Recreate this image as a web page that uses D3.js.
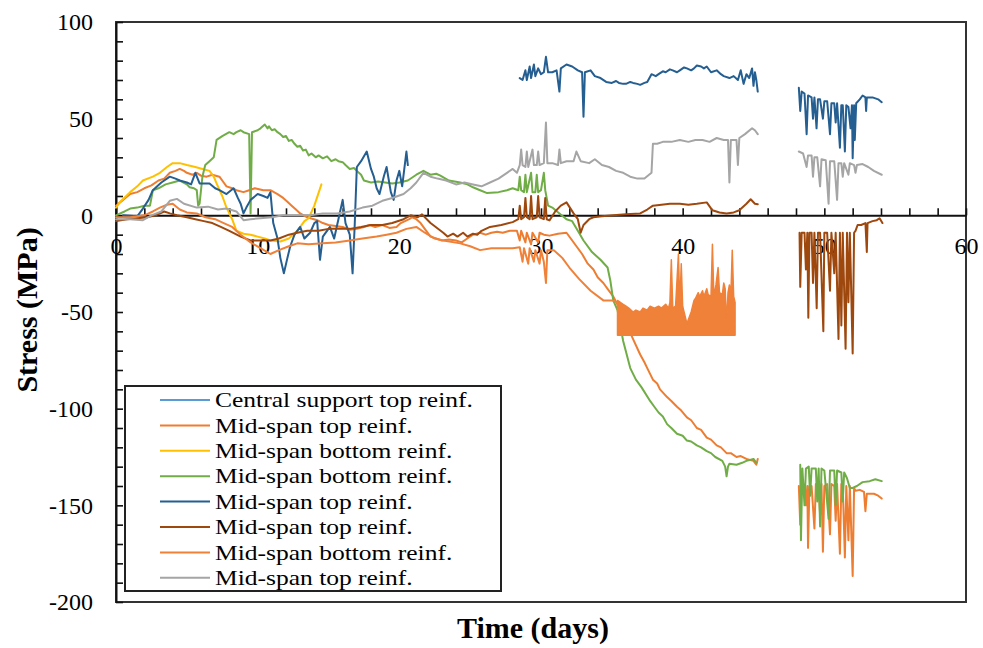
<!DOCTYPE html>
<html>
<head>
<meta charset="utf-8">
<script src="https://cdn.jsdelivr.net/npm/d3@7"></script>
<style>
  body { margin: 0; background: #fff; }
  svg { display: block; }
  text { font-family: "Liberation Serif", "Times New Roman", serif; fill: #000; }
</style>
</head>
<body>
<svg id="chart" width="983" height="648"></svg>
<script>
// Gauge stress records, [day, MPa]; null marks a gap in logging.
const centralSupportTop = [];

const midTopA = [
  [0,5],[0.5,8],[1.0,11],[1.5,12],[2.0,14],[2.5,15.5],[3.0,18],[3.4,19],[3.8,22],[4.2,23],[4.5,24],[4.8,23],
  [5.0,22],[5.4,21],[5.7,22],[6.0,20.5],[6.4,20],[6.8,21],[7.3,20],[7.6,17],[7.8,15],[8.2,14],
  [8.5,13],[9.0,12],[9.4,13],[9.8,14],[10.1,13.5],[10.4,13],[10.9,13],[11.4,11],[11.8,9],[12.1,7],[12.4,5],
  [12.7,3],[13.0,1],[13.5,-1],[14.2,-2.5],[14.6,-4],
  [15.0,-5],[15.5,-5.5],[16.0,-6],[16.5,-7.5],[17.0,-7],[17.5,-6],[17.9,-5],[18.3,-6],[18.8,-5],[19.3,-6.5],
  [19.8,-6],[20.1,-4],[20.4,-3],[20.7,-2],[20.9,-1],[21.2,-2],[21.5,-4],[21.9,-8],[22.2,-11],
  [22.6,-12],[23.0,-13],[23.5,-12.5],[24.0,-13],[24.4,-14],[24.8,-12],[25.2,-10],[25.7,-9],[26.1,-10],
  [26.5,-9],[26.9,-8.5],[27.3,-9],[27.8,-8],[28.3,-8],[28.5,-13],[28.6,-8],[28.9,-14],
  [29.0,-9],[29.3,-15],[29.4,-9],[29.8,-14],[29.9,-9],[30.2,-10],[30.6,-10.5],[31.2,-9.5],[31.8,-9],
  [32.1,-12],[32.5,-16],[32.9,-20],[33.3,-25],[33.7,-28],[34.0,-32],[34.4,-35],[34.7,-38],[35.1,-42],
  [35.6,-49],[36.0,-56],[36.5,-64],[37.0,-72],[37.3,-76],
  [37.5,-79],[37.9,-85],[38.2,-87],[38.4,-90],[38.9,-94],[39.2,-96],[39.6,-99],[39.9,-101],[40.3,-104.5],
  [40.6,-106],[41.0,-110],[41.3,-111],[41.7,-115],[42.0,-116],[42.4,-119],[42.7,-120],
  [43.1,-123],[43.4,-123],[43.8,-125],[44.1,-124.5],[44.5,-126],[45.0,-127],[45.2,-129],[45.3,-126],
  null,
  [48.2,-140],[48.3,-160],[48.4,-141],[48.6,-140],[48.7,-150],[48.8,-140],[48.85,-172],[48.95,-140],
  [49.1,-140],[49.3,-162],[49.4,-139],[49.6,-140],[49.7,-155],[49.8,-139],[49.9,-174],[50.0,-140],
  [50.2,-139],[50.4,-165],[50.5,-139],[50.7,-140],[50.8,-158],[50.9,-139],[51.1,-175],[51.2,-139],
  [51.3,-140],[51.45,-177],[51.55,-140],[51.7,-168],[51.8,-140],[52.0,-186.5],[52.1,-141],[52.2,-142.5],
  [52.5,-142],[52.8,-143],[52.9,-153],[53.0,-144],[53.5,-144],[53.8,-145],[54.05,-146.5]
];

const midBottomYellow = [
  [0,4],[0.3,7],[1.0,12],[1.5,15],[1.9,18],[2.6,20],[3.1,22],[3.6,25],[4.0,27],[4.5,27],[5.0,26],[5.6,25],
  [6.1,24],[6.6,23],[6.9,20],[7.1,16.5],[7.5,10],[7.8,4],[8.2,-2],[8.5,-8],[9.0,-9.5],[9.5,-10],[10.0,-11],
  [10.5,-12],[10.9,-13],[11.6,-13.5],[12.2,-12],[12.8,-8],[13.3,-3],[13.6,-1.5],[14.0,5],[14.5,16]
];

const midBottomGreen = [
  [0,0],[0.6,2],[1.0,3.5],[1.5,4],[2.0,5],[2.4,5],[2.6,13],[3.0,14],[3.5,16],[4.0,17],[4.5,18],[5.0,16],
  [5.2,14.5],[5.5,14],[5.7,13],[5.8,5],[5.9,6],[6.1,20],[6.3,26],[6.6,28],[6.9,30],[7.1,39],[7.5,41],
  [8.0,43],[8.3,42],[8.5,43],[8.8,44],[9.0,43],[9.4,42],[9.5,1],[9.6,43],[10.0,44],[10.2,45],[10.5,47],
  [10.7,45],[10.8,46],[11.0,44],[11.2,44.5],[11.4,43],[11.6,42],[11.8,40.5],[12.0,41],[12.2,38.5],[12.4,39],
  [12.6,37],[12.8,35.5],[13.0,36],[13.2,33.5],[13.4,34],[13.6,31],[13.8,32],[14.1,30],[14.3,31],[14.6,29.5],
  [14.9,30.5],[15.2,28],[15.5,29],[15.7,28],[16.0,27.5],[16.2,26],[16.5,24],[16.8,24.5],[17.0,23],[17.3,21],
  [17.5,18],[18.0,17],[18.5,17.5],[19.0,17],[19.5,16.5],[20.0,17],[20.6,18],[21.2,21],[21.7,23],[22.2,21],
  [22.6,21.5],[22.9,20.5],[23.5,18],[24.3,17],[24.8,16],[25.2,14.5],[25.7,13],[26.2,11.5],[27.0,12],
  [27.6,13],[28.0,14],[28.4,13],[28.5,20],[28.6,13],
  [28.8,12],[28.9,21],[29.0,12],[29.3,22],[29.4,12],[29.6,12],[29.7,21],[29.8,12],[30.0,13],[30.2,22],
  [30.3,13],[30.5,5],[30.8,4],[31.3,1],[31.8,-2],[32.2,-3],[32.6,-8],[33.0,-13],[33.6,-19],[34.2,-23],
  [34.7,-27],[34.9,-34],[35.1,-44],[35.4,-49],[35.8,-65],[36.3,-79],[36.7,-85],[37.1,-89],[37.7,-96],
  [38.0,-99],[38.3,-102],[38.6,-104],[38.9,-108],[39.2,-110],[39.6,-113],[40.0,-114],[40.3,-116.5],
  [40.6,-117],[41.0,-119],[41.3,-120],[41.7,-122],[42.0,-123],[42.3,-125],[42.8,-127],
  [43.0,-130],[43.1,-135],[43.2,-130],[43.3,-128.5],[43.8,-129],[44.2,-128],[44.5,-127],[45.0,-126],
  [45.2,-128],
  null,
  [48.3,-129],[48.35,-168],[48.45,-131],[48.6,-150],[48.7,-131],[48.9,-130],[49.0,-145],[49.1,-131],
  [49.4,-131],[49.5,-148],[49.6,-131],[49.7,-161],[49.8,-131],[50.0,-132],[50.3,-157],[50.4,-132],
  [50.7,-132],[50.8,-150],[50.9,-132],[51.2,-133],[51.3,-148],[51.4,-133],[51.6,-136],[51.8,-141],
  [52.0,-141],[52.3,-140],[52.7,-138],[53.2,-137.5],[53.6,-136.5],[54.05,-137.5]
];

const midTopBlue = [
  [0.5,0],[1.5,-0.5],[1.9,3.5],[2.3,8],[2.6,13],[3.2,17],[3.8,20],[4.2,19],[4.5,18],[5.0,17],[5.3,16],
  [5.6,22],[5.9,16.5],[6.6,16.5],[7.0,14],[7.3,13],[7.8,11],[8.3,14],[8.6,9],[8.8,6],[9.0,1],[9.2,4],
  [9.5,8],[10,11],[10.4,10],[10.7,9],[10.9,12],[11.1,-4],[11.4,-12],[11.6,-22],[11.85,-30],[12.1,-22],
  [12.3,-16],[12.6,-10],[13.0,-6],[13.3,-12],[13.7,-9],[14.0,-4],[14.2,-3],[14.4,-23],[14.6,-11],[15.1,-6],
  [15.4,-12],[15.7,-2],[16.0,8],[16.2,-4],[16.5,-10],[16.7,-30],[16.85,-5],[17.0,25],[17.3,28],[17.7,33],
  [18.0,24],[18.2,20],[18.4,14],[18.6,11],[18.9,20],[19.1,25],[19.4,12],[19.6,8],[19.8,18],[20.0,23],
  [20.2,15],[20.5,33],[20.6,26],
  null,
  [28.5,71],[28.7,70],[28.9,75],[29.0,70],[29.2,77],[29.3,71],[29.5,78],[29.6,72],[29.8,76],[30.0,73],
  [30.2,74],[30.35,82],[30.5,74],[30.8,74],[31.1,75],[31.3,64],[31.4,76],[31.8,78],[32.2,77],[32.6,75],
  [32.9,74],[33.0,51],[33.1,74],[33.5,75],[33.8,72],[34.2,71],[34.6,69],[35.0,68.5],[35.3,69.5],[35.5,68.5],
  [35.8,68],[36.0,68],[36.3,69],[36.5,68.5],[36.8,68],[37.0,67.5],[37.3,68.5],[37.5,69],[37.8,73],[38.1,72],
  [38.3,73],[38.6,74.5],[38.8,74],[39.1,75.5],[39.3,75],[39.6,74],[39.8,75],[40.1,76.5],[40.3,76],[40.6,75],
  [40.8,76],[41.0,77.5],[41.3,77],[41.5,76],[41.7,77],[42.0,74],[42.4,75],[42.7,73],[42.9,72],[43.3,71],
  [43.6,72],[43.9,70],[44.1,75],[44.3,68],
  [44.5,73],[44.7,71],[44.9,76],[45.0,67],[45.1,74],[45.2,70],[45.3,64],
  null,
  [48.2,66],[48.3,54],[48.4,64],[48.6,63],[48.75,42],[48.85,62],[49.1,61],[49.2,50],[49.3,61],[49.45,45],
  [49.55,60],[49.7,60],[49.9,50],[50.0,59],[50.2,59],[50.4,42],[50.5,58],[50.7,58],[50.8,48],[50.9,58],
  [51.1,35],[51.2,57],[51.3,57],[51.45,33],[51.55,57],[51.7,56],[51.85,45],[51.95,57],[52.0,29.5],
  [52.1,57],[52.15,39],[52.25,58],[52.5,60],[52.7,62],[52.9,61],[52.95,54],[53.0,61],[53.4,61],[53.8,60],
  [54.05,58.5]
];

const midTopBrown = [
  [0,-3],[0.8,-2],[1.5,-1.5],[2.2,-1],[2.8,0],[3.4,2],[3.8,1],[4.3,0],[5.0,-1],[5.6,-2],[6.2,-3],[6.8,-4],
  [7.4,-6],[8.0,-8],[8.8,-11],[9.5,-13],[10.2,-13],[10.9,-13],[11.5,-12],[12.2,-10],[12.8,-9],[13.5,-8],
  [14.3,-8],[15.0,-7],[15.8,-7],[16.5,-7],[17.3,-6],[18.0,-5],[18.8,-5],[19.5,-4],[20.3,-2],[20.8,0],
  [21.3,-1],[21.6,0.5],[22.2,-4],[23.1,-9],[23.4,-11],[23.8,-9.5],[24.1,-11],[24.5,-9],[24.8,-11],
  [25.2,-9.5],[25.5,-10],[25.8,-8],[26.4,-6],[27.2,-5],
  [28.0,-3.5],[28.4,-2],[28.5,5],[28.6,-2],[28.8,-1],[28.9,9],[29.0,-1],[29.2,-2],[29.3,10],[29.4,-2],
  [29.7,-1],[29.8,10],[29.9,-1],[30.2,-2],[30.3,9],[30.4,-2],[30.6,-2.6],[31.0,2],[31.4,5],[31.8,6.7],
  [32.3,1],[32.6,-2],[32.8,-9],[33.0,-5],[33.4,-2],[33.7,-1],[34.3,-0.5],[35.1,0],[36.0,0.5],[37.0,1],
  [37.5,3],[37.9,5],[38.5,5.5],[39.1,6],[39.8,6],[40.4,5.5],[41.0,6],[41.7,6.7],[42.1,2.6],[42.6,1.5],
  [43.1,1],[43.6,1.5],[44.0,2.6],[44.5,6],[44.8,8.3],[45.1,6],[45.3,5.7],
  null,
  [48.25,-9],[48.3,-37],[48.4,-9],[48.6,-9],[48.7,-28],[48.8,-9],[48.87,-53],[48.95,-9],[49.1,-9],
  [49.2,-35],[49.3,-9],[49.46,-48],[49.55,-9],[49.7,-9],[49.93,-60],[50.0,-9],[50.2,-9],[50.4,-39],
  [50.5,-9],[50.7,-30],[50.8,-9],[51.0,-64],[51.1,-9],[51.2,-57],[51.3,-9],[51.5,-69],[51.6,-9],
  [51.7,-45],[51.8,-9],[52.0,-71.5],[52.1,-9],[52.2,-8],[52.35,-5],[52.6,-5],[52.9,-4],[53.0,-19],
  [53.05,-4],[53.4,-3],[53.7,-2.5],[53.9,-1.5],[54.1,-4]
];

const midBottomB = [
  [0,-1],[1,-1],[2,0],[2.6,2],[3.1,4],[3.6,5.5],[4.0,6],[4.5,3],[5.0,1.5],[5.7,1],[6.3,-1],[7.0,-2],
  [7.6,-4],[8.2,-6],[8.8,-10],[9.5,-14],[10.2,-17],[10.9,-20],[11.5,-18],[12.2,-16],[12.8,-14.5],
  [13.6,-15],[14.6,-14.5],[15.5,-14],[16.5,-13],[17.4,-12],[18.4,-11],[19.1,-10],[19.8,-9],[20.5,-7],
  [21.2,-6],[21.8,-9],[22.5,-12],[23.1,-13],[24.3,-14.5],[25.0,-16],[25.7,-18],[26.5,-17],[27.2,-17],
  [28.0,-17],[28.5,-16.5],[28.7,-24],[28.8,-17],[29.1,-25],[29.2,-17],[29.5,-24],[29.6,-18],[29.9,-25],
  [30.0,-18],[30.2,-24],[30.35,-35],[30.45,-18],[30.9,-18],[31.5,-22],[32.0,-27],[32.7,-33],[33.5,-39],
  [34.4,-44],[35.0,-44],[35.4,-45]
];

// Saturated logging band of the same gauge: upper envelope over a constant floor.
const midBottomBand = [
  [35.4,-44],[35.6,-45],[35.8,-46],[36.0,-47],[36.2,-48],[36.5,-50],[36.7,-49],[37.0,-50],[37.2,-48],
  [37.5,-49],[37.7,-47],[38.0,-48],[38.3,-47],[38.5,-48],[38.8,-46],[39.0,-48],[39.1,-45],[39.2,-23],
  [39.3,-48],[39.5,-47],[39.7,-20],[39.8,-47],[39.9,-25],[40.0,-47],[40.3,-56],[40.6,-50],[40.8,-44],
  [40.9,-43],[41.1,-40],[41.2,-42],[41.4,-39],[41.5,-42],[41.7,-38],[41.8,-41],[42.0,-42],[42.1,-15],
  [42.2,-42],[42.35,-36],[42.5,-27],[42.6,-40],[42.8,-41],[42.9,-35],[43.0,-38],[43.1,-56],[43.2,-40],
  [43.3,-36],[43.4,-42],[43.5,-18],[43.6,-42],[43.7,-45]
];
const bandFloor = -62;

const midTopGray = [
  [0,-2],[1,-2],[1.9,-2.5],[2.5,0],[3.2,2],[3.8,7.5],[4.3,8.5],[4.8,6],[5.7,4],[6.5,4.5],[7.2,3],[7.8,3.5],
  [8.5,2],[9.0,-2.5],[9.5,-2],[10.2,-1.5],[11,-1],[11.8,0],[12.8,0],[13.7,0],[14.6,1],[15.6,1],[16.5,2],
  [17.4,4],[18.1,5],[18.8,7.5],[19.5,9],[20.3,11],[20.8,14],[21.2,17],[21.7,22],[22.2,20],[22.7,19],
  [23.3,18],[24.0,16],[24.6,17],[25.2,16],[25.8,15],[26.4,17],[27.0,19],[27.6,22],[28.0,24],[28.3,22],
  [28.5,26],[28.6,34],[28.7,26],[28.9,25],[29.0,33],[29.1,25],[29.4,34],[29.5,26],[29.7,26],[29.8,33],
  [29.9,26],[30.2,27],[30.35,48],[30.45,27],[30.8,27],[31.2,26],[31.3,34],[31.4,27],[31.8,28],[32.3,28],
  [32.5,33],[32.8,28],[33.4,27],[33.8,29],[34.3,26],[34.8,25],[35.3,23],[35.8,22],[36.3,20],[36.8,19],
  [37.3,19],[37.8,22],[37.9,37],[38.2,37],[38.6,38],[39.2,38],[39.8,39],[40.4,38],[40.9,39],[41.4,39],
  [41.9,38],[42.4,40],[42.9,39],[43.2,39],[43.3,17],[43.4,39],[43.8,39],[43.9,26],[44.0,40],[44.4,42],
  [44.9,45],[45.1,44],[45.3,42],
  null,
  [48.2,33],[48.5,32],[48.75,25],[48.85,31],[49.1,31],[49.2,20],[49.3,30],[49.5,30],[49.7,15],[49.8,29],
  [50.1,28.5],[50.3,6],[50.4,28],[50.7,28],[50.9,8],[51.0,27],[51.2,27],[51.3,20],[51.4,27],[51.7,21],
  [51.8,27],[52.1,26],[52.2,22],[52.3,26],[52.7,26.5],[53.1,25],[53.5,23],[54.05,21]
];

const seriesNames = [
  "Central support top reinf.", "Mid-span top reinf.", "Mid-span bottom reinf.", "Mid-span bottom reinf.",
  "Mid-span top reinf.", "Mid-span top reinf.", "Mid-span bottom reinf.", "Mid-span top reinf."
];
const seriesColors = ["#5B9BD5", "#ED7D31", "#FFC000", "#70AD47", "#255E91", "#9E480E", "#F08139", "#A5A5A5"];
const seriesData = [centralSupportTop, midTopA, midBottomYellow, midBottomGreen, midTopBlue, midTopBrown, midBottomB, midTopGray];

const xTicks = d3.range(0, 61, 2);
const xLabels = [0, 10, 20, 30, 40, 50, 60];
const yTicks = d3.range(-200, 101, 10);
const yLabels = [-200, -150, -100, -50, 0, 50, 100];

const svg = d3.select("#chart");
const x = d3.scaleLinear().domain([0, 60]).range([116, 966]);
const y = d3.scaleLinear().domain([-200, 100]).range([602, 22]);

// plot frame
svg.append("rect")
  .attr("x", x(0)).attr("y", y(100))
  .attr("width", x(60) - x(0)).attr("height", y(-200) - y(100))
  .attr("fill", "none").attr("stroke", "#333").attr("stroke-width", 2);

// y axis: inward ticks, labels every 50
const yAxis = d3.axisLeft(y).tickValues(yTicks).tickSizeInner(-7).tickSizeOuter(0).tickPadding(23)
  .tickFormat(d => yLabels.includes(d) ? String(d) : "");
const gy = svg.append("g").attr("transform", `translate(${x(0)},0)`).call(yAxis);
gy.select(".domain").attr("stroke", "#111").attr("stroke-width", 2);
gy.selectAll(".tick line").attr("stroke", "#111").attr("stroke-width", 1.6);
gy.selectAll(".tick text").attr("font-size", 24).attr("font-family", "Liberation Serif").attr("fill", "#000");

// x axis along zero stress, ticks pointing up
const xAxis = d3.axisBottom(x).tickValues(xTicks).tickSizeInner(-7).tickSizeOuter(0).tickPadding(22)
  .tickFormat(d => xLabels.includes(d) ? String(d) : "");
const gx = svg.append("g").attr("transform", `translate(0,${y(0)})`).call(xAxis);
gx.select(".domain").attr("stroke", "#111").attr("stroke-width", 2);
gx.selectAll(".tick line").attr("stroke", "#111").attr("stroke-width", 1.6);
gx.selectAll(".tick text").attr("font-size", 24).attr("font-family", "Liberation Serif").attr("fill", "#000");

// series
const line = d3.line().defined(d => d !== null).x(d => x(d[0])).y(d => y(d[1]));
const area = d3.area().x(d => x(d[0])).y0(y(bandFloor)).y1(d => y(d[1]));

const plot = svg.append("g").attr("fill", "none").attr("stroke-width", 2)
  .attr("stroke-linejoin", "round").attr("stroke-linecap", "round");
seriesData.forEach((data, i) => {
  if (i === 6) {
    plot.append("path").datum(midBottomBand).attr("d", area)
      .attr("fill", seriesColors[6]).attr("stroke", seriesColors[6]).attr("stroke-width", 1.5);
  }
  plot.append("path").datum(data).attr("d", line).attr("stroke", seriesColors[i]);
});

// legend: compact rows of slightly widened serif text
const legend = svg.append("g");
legend.append("rect").attr("x", 125).attr("y", 386).attr("width", 376).attr("height", 205)
  .attr("fill", "#fff").attr("stroke", "#222").attr("stroke-width", 2);
const rows = legend.selectAll("g.row").data(seriesNames).join("g")
  .attr("class", "row");
rows.append("line").attr("x1", 160).attr("x2", 210)
  .attr("y1", (d, i) => 400 + i * 25.4).attr("y2", (d, i) => 400 + i * 25.4)
  .attr("stroke", (d, i) => seriesColors[i]).attr("stroke-width", 2);
rows.append("text").attr("font-size", 22).attr("dy", "0.33em").text(d => d)
  .attr("transform", (d, i) => `translate(215,${400 + i * 25.4}) scale(1.16,1)`);

// axis titles
svg.append("text").attr("x", 533).attr("y", 638).attr("text-anchor", "middle")
  .attr("font-size", 30).attr("font-weight", "bold").text("Time (days)");
svg.append("text").attr("transform", "translate(37,310) rotate(-90)").attr("text-anchor", "middle")
  .attr("font-size", 30).attr("font-weight", "bold").text("Stress (MPa)");
</script>
</body>
</html>
